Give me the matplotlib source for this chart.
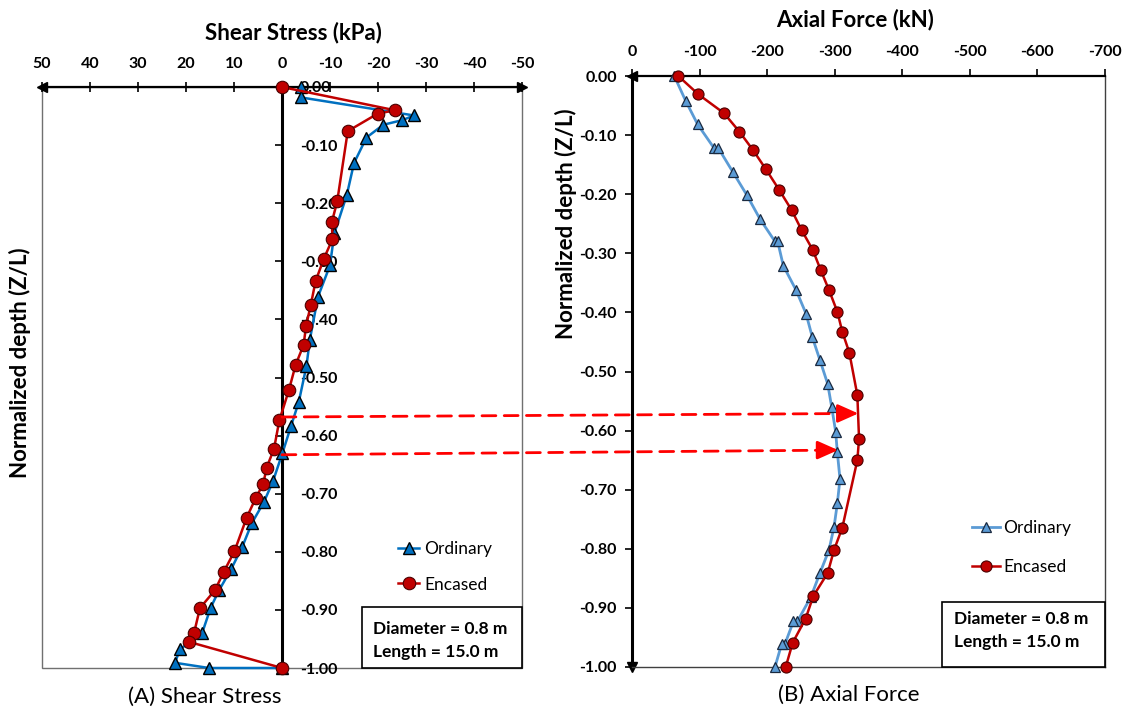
import matplotlib
matplotlib.use("Agg")
import matplotlib.pyplot as plt
from matplotlib.patches import ConnectionPatch, Rectangle
from matplotlib.ticker import FormatStrFormatter

plt.rcParams['font.family'] = ['Lato', 'DejaVu Sans']
plt.rcParams['axes.unicode_minus'] = False

# ---------------- data ----------------
# (A) Shear stress (kPa) vs normalized depth
ord_shear = [-4.0, -4.0, -27.5, -25.1, -21.1, -17.6, -15.0, -13.5, -10.9, -10.0, -7.5,
             -5.8, -5.1, -3.5, -1.9, -0.1, 1.9, 3.75, 6.3, 8.25, 10.6, 13.1, 14.85,
             16.6, 21.25, 22.3, 15.2, 0.0]
ord_shear_depth = [0.000, -0.018, -0.049, -0.057, -0.065, -0.087, -0.131, -0.186, -0.252,
                   -0.307, -0.361, -0.435, -0.480, -0.542, -0.583, -0.630, -0.679, -0.714,
                   -0.751, -0.791, -0.830, -0.866, -0.896, -0.939, -0.968, -0.991, -1.000,
                   -1.000]
enc_shear = [0.0, -23.5, -19.9, -13.7, -11.5, -10.4, -10.5, -8.7, -7.0, -6.0, -5.0, -4.5,
             -2.85, -1.46, 0.56, 1.67, 3.2, 3.9, 5.5, 7.35, 9.9, 12.1, 13.96, 17.1, 18.3,
             19.4, 0.0]
enc_shear_depth = [0.000, -0.040, -0.046, -0.076, -0.197, -0.232, -0.262, -0.296, -0.334,
                   -0.375, -0.412, -0.444, -0.478, -0.521, -0.574, -0.623, -0.655, -0.683,
                   -0.708, -0.741, -0.799, -0.834, -0.866, -0.897, -0.939, -0.955, -1.000]

# (B) Axial force (kN) vs normalized depth
ord_axial = [-62.6, -79.4, -97.2, -121.4, -127.8, -149.0, -169.7, -189.4, -211.6, -215.6,
             -223.9, -242.7, -257.5, -266.9, -278.2, -289.6, -295.5, -301.4, -303.9,
             -307.8, -303.9, -299.0, -291.5, -278.2, -264.9, -244.7, -238.8, -226.4,
             -221.5, -211.6]
ord_axial_depth = [0.000, -0.042, -0.082, -0.122, -0.122, -0.162, -0.201, -0.242, -0.280,
                   -0.280, -0.321, -0.362, -0.402, -0.442, -0.481, -0.521, -0.560, -0.602,
                   -0.637, -0.682, -0.723, -0.763, -0.802, -0.841, -0.881, -0.923, -0.923,
                   -0.961, -0.961, -1.000]
enc_axial = [-68.5, -98.2, -136.2, -158.8, -179.5, -198.3, -218.0, -236.3, -251.1, -267.4,
             -279.5, -291.5, -303.9, -311.3, -321.6, -333.5, -336.0, -333.5, -311.3,
             -299.0, -289.6, -268.3, -257.0, -237.8, -227.5]
enc_axial_depth = [0.000, -0.031, -0.063, -0.094, -0.126, -0.158, -0.193, -0.227, -0.261,
                   -0.294, -0.329, -0.362, -0.399, -0.433, -0.468, -0.540, -0.614, -0.650,
                   -0.764, -0.802, -0.841, -0.880, -0.918, -0.959, -1.000]

shear_ticks = [50, 40, 30, 20, 10, 0, -10, -20, -30, -40, -50]
axial_ticks = [0, -100, -200, -300, -400, -500, -600, -700]
depth_ticks = [0.0, -0.1, -0.2, -0.3, -0.4, -0.5, -0.6, -0.7, -0.8, -0.9, -1.0]

# dashed arrows: (shear-panel depth) -> (axial force, depth) in panel B
arrow_start_depths = [-0.568, -0.633]
arrow_end_points = [(-335.0, -0.571), (-305.0, -0.633)]

info_text = "Diameter = 0.8 m\nLength = 15.0 m"

# ---------------- figure ----------------
W, H = 1123, 716
fig = plt.figure(figsize=(W / 100, H / 100), dpi=100)
axL = fig.add_axes([42 / W, 1 - 668 / H, 480 / W, 581 / H])
axR = fig.add_axes([632 / W, 1 - 667 / H, 473 / W, 591 / H])

blueL = '#0070C0'
blueR = '#5B9BD5'
red = '#C00000'
TICK_FS = 11.5

# ---- panel A ----
axL.plot(ord_shear, ord_shear_depth, color=blueL, lw=1.8, marker='^', ms=8,
         mfc=blueL, mec='black', mew=1.0, label='Ordinary', zorder=4, clip_on=False)
axL.plot(enc_shear, enc_shear_depth, color=red, lw=1.8, marker='o', ms=9,
         mfc=red, mec='#4a0000', mew=0.8, label='Encased', zorder=5, clip_on=False)
axL.set_xlim(50, -50)
axL.set_ylim(-1, 0)
axL.set_xticks(shear_ticks)
axL.set_yticks(depth_ticks)
axL.yaxis.set_major_formatter(FormatStrFormatter('%.2f'))
axL.xaxis.tick_top()
axL.yaxis.tick_right()
axL.spines['right'].set_position(('data', 0))
axL.spines['right'].set_linewidth(2.2)
axL.spines['right'].set_zorder(3)
axL.spines['top'].set_linewidth(1.6)
axL.spines['left'].set_visible(False)
axL.spines['bottom'].set_visible(False)
axL.add_patch(Rectangle((0, 0), 1, 1, transform=axL.transAxes, fill=False,
                        ec='#707070', lw=1.0, clip_on=False, zorder=1))
axL.tick_params(axis='x', direction='inout', length=7, width=1.2, pad=8, labelsize=TICK_FS)
axL.tick_params(axis='y', direction='in', length=5, width=1.2, pad=13, labelsize=TICK_FS)
for lab in axL.get_xticklabels() + axL.get_yticklabels():
    lab.set_fontweight('bold')
axL.plot([0], [1], marker='<', color='black', ms=7, transform=axL.transAxes, clip_on=False)
axL.plot([1], [1], marker='>', color='black', ms=7, transform=axL.transAxes, clip_on=False)
axL.legend(loc='upper left', bbox_to_anchor=(0.742, 0.219), frameon=False, fontsize=12.5,
           labelspacing=1.14, handlelength=1.2, handletextpad=0.3, borderpad=0,
           borderaxespad=0)
axL.add_patch(Rectangle((0.667, 0), 0.333, 0.105, transform=axL.transAxes, fc='white',
                        ec='black', lw=1.2, zorder=6, clip_on=False))
axL.text(0.69, 0.047, info_text, transform=axL.transAxes, ha='left', va='center',
         fontsize=12.5, fontweight='bold', linespacing=1.5, zorder=7)

# ---- panel B ----
axR.plot(ord_axial, ord_axial_depth, color=blueR, lw=2.0, marker='^', ms=7.5,
         mfc=blueR, mec='#1a2a40', mew=0.9, label='Ordinary', zorder=4, clip_on=False)
axR.plot(enc_axial, enc_axial_depth, color=red, lw=1.8, marker='o', ms=8,
         mfc=red, mec='#4a0000', mew=0.8, label='Encased', zorder=5, clip_on=False)
axR.set_xlim(0, -700)
axR.set_ylim(-1, 0)
axR.set_xticks(axial_ticks)
axR.set_yticks(depth_ticks)
axR.yaxis.set_major_formatter(FormatStrFormatter('%.2f'))
axR.xaxis.tick_top()
axR.spines['left'].set_linewidth(2.2)
axR.spines['top'].set_linewidth(1.6)
axR.spines['right'].set_linewidth(1.0)
axR.spines['bottom'].set_linewidth(1.0)
axR.spines['right'].set_color('#404040')
axR.spines['bottom'].set_color('#404040')
axR.tick_params(axis='x', direction='out', length=5, width=1.2, pad=7, labelsize=TICK_FS)
axR.tick_params(axis='y', direction='out', length=5, width=1.2, pad=6, labelsize=TICK_FS)
for lab in axR.get_xticklabels() + axR.get_yticklabels():
    lab.set_fontweight('bold')
axR.plot([0], [1], marker='<', color='black', ms=7, transform=axR.transAxes, clip_on=False)
axR.plot([0], [0], marker='v', color='black', ms=7, transform=axR.transAxes, clip_on=False)
axR.legend(loc='upper left', bbox_to_anchor=(0.719, 0.248), frameon=False, fontsize=12.5,
           labelspacing=1.31, handlelength=1.6, handletextpad=0.2, borderpad=0,
           borderaxespad=0)
axR.add_patch(Rectangle((0.6554, 0), 0.3446, 0.110, transform=axR.transAxes, fc='white',
                        ec='black', lw=1.2, zorder=6, clip_on=False))
axR.text(0.68, 0.062, info_text, transform=axR.transAxes, ha='left', va='center',
         fontsize=12.5, fontweight='bold', linespacing=1.5, zorder=7)

# ---- titles & labels ----
fig.text(293 / W, 1 - 33 / H, 'Shear Stress (kPa)', ha='center', va='center',
         fontsize=16, fontweight='bold')
fig.text(855.5 / W, 1 - 20 / H, 'Axial Force (kN)', ha='center', va='center',
         fontsize=16, fontweight='bold')
fig.text(205 / W, 1 - 697 / H, '(A) Shear Stress', ha='center', va='center', fontsize=16)
fig.text(849 / W, 1 - 695 / H, '(B) Axial Force', ha='center', va='center', fontsize=16)
fig.text(20 / W, 1 - 363 / H, 'Normalized depth (Z/L)', ha='center', va='center',
         rotation=90, fontsize=16, fontweight='bold')
fig.text(566 / W, 1 - 224 / H, 'Normalized depth (Z/L)', ha='center', va='center',
         rotation=90, fontsize=16, fontweight='bold')

# ---- dashed arrows linking panels ----
for d0, (xe, ye) in zip(arrow_start_depths, arrow_end_points):
    line = ConnectionPatch(xyA=(0, d0), coordsA=axL.transData, xyB=(xe, ye),
                           coordsB=axR.transData, arrowstyle='-', color='#FF0000',
                           lw=2.0, linestyle=(0, (5, 3)), shrinkB=14, zorder=8)
    fig.add_artist(line)
    head = ConnectionPatch(xyA=(xe + 25, ye), coordsA=axR.transData, xyB=(xe, ye),
                           coordsB=axR.transData,
                           arrowstyle='-|>,head_length=0.9,head_width=0.4',
                           mutation_scale=14, color='#FF0000', lw=2.0, zorder=8)
    fig.add_artist(head)

fig.savefig('out.png', dpi=100)
